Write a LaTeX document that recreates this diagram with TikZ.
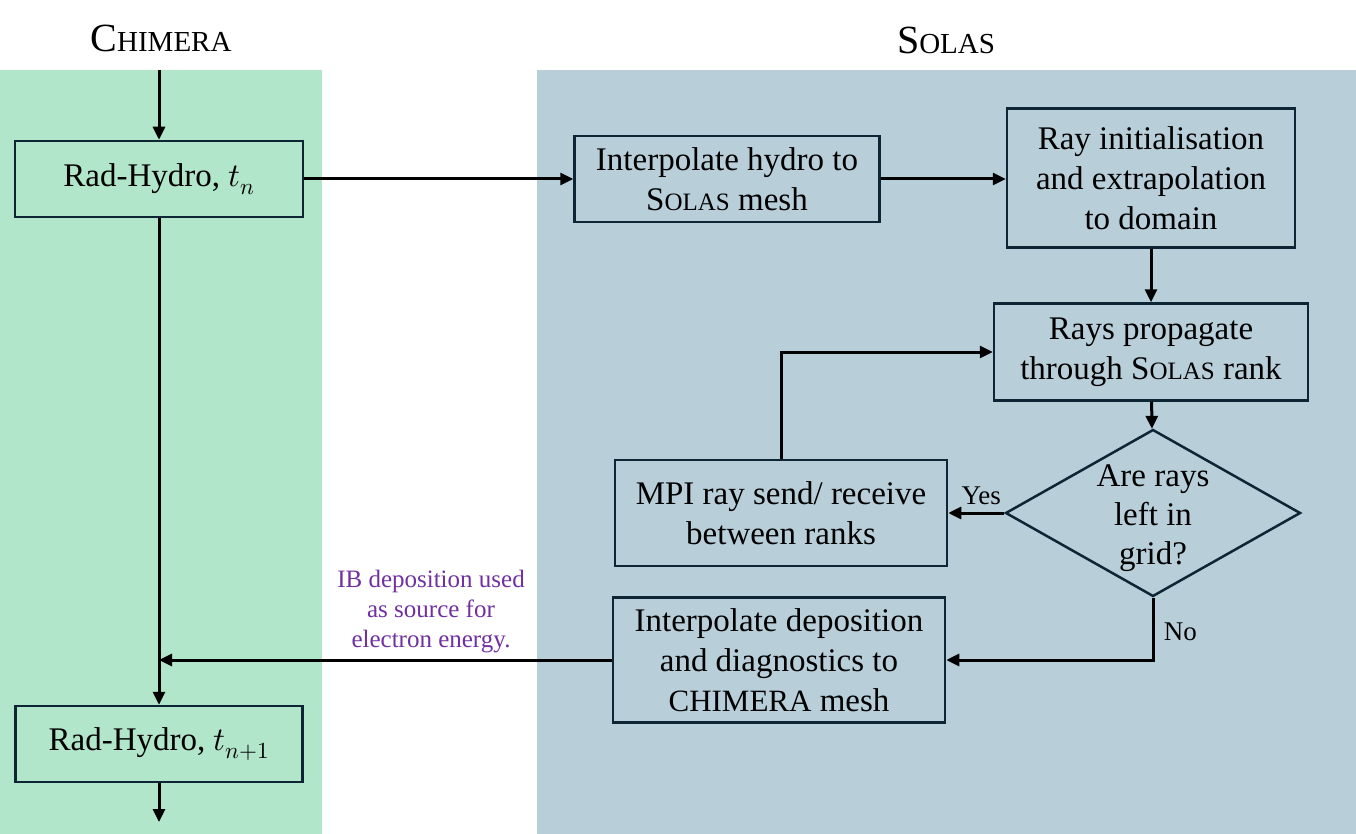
\documentclass[tikz,border=0pt]{standalone}
\usepackage{fontspec}
\usepackage{unicode-math}
\setmainfont{Liberation Serif}
\setmathfont{Latin Modern Math}
\usetikzlibrary{shapes.geometric,arrows.meta}
\definecolor{chimgreen}{HTML}{B2E6CA}
\definecolor{solblue}{HTML}{B8CFDA}
\definecolor{boxline}{HTML}{0E2535}
\definecolor{notepurple}{HTML}{7030A0}
\newcommand{\solasname}{S{\fontsize{25}{25}\selectfont OLAS}}
\newcommand{\chimname}{{\fontsize{31}{31}\selectfont CHIMERA}}
\begin{document}
\begin{tikzpicture}[x=1pt,y=-1pt,
  box/.style={draw=boxline, line width=2.5pt, align=center, inner sep=0pt,
    font=\fontsize{33}{40}\selectfont},
  arr/.style={line width=3pt, -{Triangle[length=13pt,width=12pt]}},
  small/.style={font=\fontsize{27}{27}\selectfont}]
\useasboundingbox (0,0) rectangle (1356,834);
% background panels
\fill[chimgreen] (0,70) rectangle (322,834);
\fill[solblue] (537,70) rectangle (1356,834);

\node[font=\fontsize{40}{40}\selectfont] (chim) at (161,38){C{\fontsize{29}{29}\selectfont HIMERA}};
\node[font=\fontsize{40}{40}\selectfont] (sol) at (946,40){S{\fontsize{29}{29}\selectfont OLAS}};

\node[box, fill=chimgreen, minimum width=288pt, minimum height=76pt] (RH1) at (159,179){Rad-Hydro, $t_n$};
\node[box, fill=chimgreen, minimum width=287pt, minimum height=76pt] (RH2) at (159,744){Rad-Hydro, $t_{n+1}$};
\node[box, minimum width=305pt, minimum height=86pt] (IH) at (727,179){Interpolate hydro to\\\solasname{} mesh};
\node[box, minimum width=288pt, minimum height=139pt] (RI) at (1151,178){Ray initialisation\\and extrapolation\\to domain};
\node[box, minimum width=314pt, minimum height=97pt] (RP) at (1151,352){Rays propagate\\through \solasname{} rank};
\node[draw=boxline, line width=2.5pt, diamond, inner sep=0pt, minimum width=295pt, minimum height=167pt] (D) at (1153,513){};
\node[align=center, font=\fontsize{33}{39}\selectfont] (Dtxt) at (1153,518){Are rays\\left in\\grid?};
\node[box, minimum width=332pt, minimum height=106pt] (MPI) at (781,513){MPI ray send/ receive\\between ranks};
\node[box, minimum width=332pt, minimum height=125pt] (ID) at (779,660){Interpolate deposition\\and diagnostics to\\\chimname{} mesh};
\node[align=center, text=notepurple, font=\fontsize{25}{30}\selectfont] (IB) at (431,612){IB deposition used\\as source for\\electron energy.};

\coordinate (top) at (159,70);
\coordinate (bot) at (159,822);

\draw[arr] (top)--(RH1);
\draw[arr] (RH1)--(RH2);
\draw[arr] (RH2)--(bot);
\draw[arr] (RH1)--(IH);
\draw[arr] (IH.east)--(IH.east -| RI.west);
\draw[arr] (RI)--(RP);
\draw[arr] (RP)--(D);
\draw[arr] (D.west)--(MPI.east) node[midway, above, small, xshift=5pt, yshift=3pt] (yes){Yes};
\draw[arr] (MPI)|-(RP);
\draw[arr] (D.south)|-(ID.east) node[pos=0.27, right, xshift=6pt, small] (no){No};
\draw[arr] (ID.west)--(RH1 |- ID.west);

\end{tikzpicture}
\end{document}
